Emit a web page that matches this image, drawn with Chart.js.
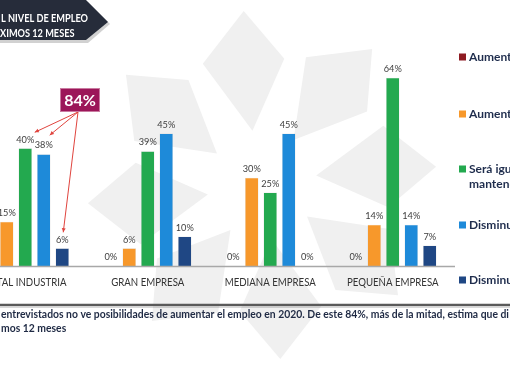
<!DOCTYPE html>
<html><head><meta charset="utf-8">
<script src="https://cdn.jsdelivr.net/npm/chart.js@4/dist/chart.umd.min.js"></script>
<style>
html,body{margin:0;padding:0;background:#fff;overflow:hidden;width:510px;height:382px}
#c{position:absolute;left:-40px;top:0}
</style></head>
<body><canvas id="c" width="550" height="382"></canvas>
<script>
// ---- data ----
const categories = ['TOTAL INDUSTRIA', 'GRAN EMPRESA', 'MEDIANA EMPRESA', 'PEQUEÑA EMPRESA'];
const seriesNames = ['Aumentará significativamente', 'Aumentará levemente', 'Será igual o se mantendrá', 'Disminuirá levemente', 'Disminuirá significativamente'];
const aumentaMucho   = [0, 0, 0, 0];
const aumentaPoco    = [15, 6, 30, 14];
const seraIgual      = [40, 39, 25, 64];
const disminuyePoco  = [38, 45, 45, 14];
const disminuyeMucho = [6, 10, 0, 7];
const calloutText = '84%';
const headerLines = ['L NIVEL DE EMPLEO', 'XIMOS 12 MESES'];
const footLines = ['entrevistados no ve posibilidades de aumentar el empleo en 2020. De este 84%, más de la mitad, estima que di', 'mos 12 meses'];
const legendLines = [['Aumentará significativamente'], ['Aumentará levemente'], ['Será igual o se', 'mantendrá'], ['Disminuirá levemente'], ['Disminuirá significativamente']];

const colors = ['#8e1b22', '#f7982b', '#23a94f', '#1e8ad9', '#1f4784'];
const SHIFT = 40;
const FONT = 'Lato, "Open Sans", sans-serif';

function petal(ctx, cx, cy, a, r0, r1, r2, w1, w2) {
  const p = (r, ang) => [cx + r * Math.cos(ang), cy + r * Math.sin(ang)];
  const d = Math.PI / 180;
  const pts = [p(r0, a), p(r1, a - w1 * d), p(r2, a + 4 * d), p(r1 * 0.95, a + w2 * d)];
  ctx.beginPath();
  ctx.moveTo(pts[0][0], pts[0][1]);
  for (let i = 1; i < pts.length; i++) ctx.lineTo(pts[i][0], pts[i][1]);
  ctx.closePath();
  ctx.fill();
}

function arrow(ctx, x0, y0, x1, y1) {
  ctx.beginPath(); ctx.moveTo(x0, y0); ctx.lineTo(x1, y1); ctx.stroke();
  const ang = Math.atan2(y1 - y0, x1 - x0), s = 4.5;
  ctx.beginPath();
  ctx.moveTo(x1, y1);
  ctx.lineTo(x1 - s * Math.cos(ang - 0.45), y1 - s * Math.sin(ang - 0.45));
  ctx.lineTo(x1 - s * Math.cos(ang + 0.45), y1 - s * Math.sin(ang + 0.45));
  ctx.closePath(); ctx.fill();
}

// draw text horizontally condensed (Calibri-like proportions)
function narrowText(ctx, text, x, y, sx, align) {
  ctx.save();
  ctx.translate(x, y);
  ctx.scale(sx, 1);
  ctx.textAlign = align;
  ctx.fillText(text, 0, 0);
  ctx.restore();
}

const decor = {
  id: 'decor',
  beforeDraw(chart) {
    const ctx = chart.ctx;
    ctx.save();
    ctx.fillStyle = '#fff';
    ctx.fillRect(0, 0, chart.width, chart.height);
    ctx.translate(SHIFT, 0);
    // watermark logo (light grey pinwheel)
    ctx.fillStyle = '#f0f0f0';
    const cx = 262, cy = 185;
    for (let k = 0; k < 8; k++) {
      const a = (k * 45 - 100) * Math.PI / 180;
      petal(ctx, cx, cy, a, 55, 135, 175, 16, 20);
    }
    ctx.restore();
  },
  afterDatasetsDraw(chart) {
    const ctx = chart.ctx;
    const xs = chart.scales.x;
    const area = chart.chartArea;
    ctx.save();
    // value labels
    ctx.font = '10px ' + FONT;
    ctx.fillStyle = '#404040';
    ctx.textBaseline = 'middle';
    chart.data.datasets.forEach((ds, di) => {
      chart.getDatasetMeta(di).data.forEach((bar, i) => {
        narrowText(ctx, ds.data[i] + '%', bar.x, bar.y - 9, 0.92, 'center');
      });
    });
    ctx.translate(SHIFT, 0);
    // baseline
    ctx.strokeStyle = '#a8a8a8';
    ctx.lineWidth = 1.5;
    ctx.beginPath(); ctx.moveTo(0, area.bottom + 0.5); ctx.lineTo(455, area.bottom + 0.5); ctx.stroke();
    // category labels
    ctx.font = '11.5px ' + FONT;
    ctx.fillStyle = '#333';
    categories.forEach((c, i) => narrowText(ctx, c, xs.getPixelForValue(i) - SHIFT, 282, 0.84, 'center'));
    // legend
    const ly = [57, 114, 169, 225, 280];
    ctx.textAlign = 'left';
    ctx.font = 'bold 12px ' + FONT;
    legendLines.forEach((lines, i) => {
      ctx.fillStyle = colors[i];
      ctx.fillRect(459, ly[i] - 3.5, 7, 7);
      ctx.fillStyle = '#1f2d4d';
      lines.forEach((t, j) => ctx.fillText(t, 469, ly[i] + j * 15));
    });
    // header chevron
    ctx.fillStyle = 'rgba(0,0,0,0.18)';
    ctx.beginPath(); ctx.moveTo(0, 2); ctx.lineTo(88, 2); ctx.lineTo(110, 24); ctx.lineTo(88, 43); ctx.lineTo(0, 43); ctx.closePath(); ctx.fill();
    ctx.fillStyle = '#262c3a';
    ctx.beginPath(); ctx.moveTo(0, 0); ctx.lineTo(86, 0); ctx.lineTo(108, 22); ctx.lineTo(86, 40); ctx.lineTo(0, 40); ctx.closePath(); ctx.fill();
    ctx.fillStyle = '#fff';
    ctx.font = 'bold 12px ' + FONT;
    const hw = ctx.measureText(headerLines[0]).width;
    const hsx = 87 / hw;
    narrowText(ctx, headerLines[0], 1, 18, hsx, 'left');
    narrowText(ctx, headerLines[1], 0, 33, hsx, 'left');
    // separator
    ctx.strokeStyle = '#5a5a5a';
    ctx.lineWidth = 2.5;
    ctx.beginPath(); ctx.moveTo(0, 305); ctx.lineTo(510, 305); ctx.stroke();
    ctx.strokeStyle = 'rgba(0,0,0,0.15)';
    ctx.lineWidth = 1;
    ctx.beginPath(); ctx.moveTo(0, 307.5); ctx.lineTo(510, 307.5); ctx.stroke();
    // footnote
    ctx.textAlign = 'left';
    ctx.font = 'bold 10.5px ' + FONT;
    const w = ctx.measureText(footLines[0]).width;
    const fsx = 508 / w;
    ctx.fillStyle = '#1f2a44';
    narrowText(ctx, footLines[0], 1, 315, fsx, 'left');
    narrowText(ctx, footLines[1], 1, 329, fsx, 'left');
    // callout arrows
    const mG = chart.getDatasetMeta(2).data[0];
    const mB = chart.getDatasetMeta(3).data[0];
    const mN = chart.getDatasetMeta(4).data[0];
    ctx.strokeStyle = '#e0443e';
    ctx.fillStyle = '#e0443e';
    ctx.lineWidth = 1;
    const ox = 78, oy = 112;
    arrow(ctx, ox, oy, mG.x - SHIFT + 9.5, mG.y - 16);
    arrow(ctx, ox, oy, mB.x - SHIFT + 6, mB.y - 19);
    arrow(ctx, ox, oy, mN.x - SHIFT + 1, mN.y - 16);
    // callout box
    ctx.fillStyle = '#9c1659';
    ctx.fillRect(60, 88, 40, 24);
    ctx.strokeStyle = '#c97aa0';
    ctx.strokeRect(60.5, 88.5, 39, 23);
    ctx.fillStyle = '#fff';
    ctx.textAlign = 'center';
    ctx.font = 'bold 16px ' + FONT;
    ctx.fillText(calloutText, 80, 101);
    ctx.restore();
  }
};

const seriesData = [aumentaMucho, aumentaPoco, seraIgual, disminuyePoco, disminuyeMucho];
new Chart(document.getElementById('c'), {
  type: 'bar',
  data: {
    labels: categories,
    datasets: seriesData.map((d, i) => ({
      label: seriesNames[i],
      data: d,
      backgroundColor: colors[i],
      borderColor: 'rgba(0,0,0,0.15)',
      borderWidth: 0.5,
      barPercentage: 0.73,
      categoryPercentage: 0.755
    }))
  },
  options: {
    responsive: false,
    animation: false,
    devicePixelRatio: 1,
    layout: { padding: { left: 4, right: 56, top: 60, bottom: 116 } },
    scales: {
      x: { display: false },
      y: { display: false, min: 0, max: 70 }
    },
    plugins: { legend: { display: false }, tooltip: { enabled: false } }
  },
  plugins: [decor]
});
</script>
</body></html>
